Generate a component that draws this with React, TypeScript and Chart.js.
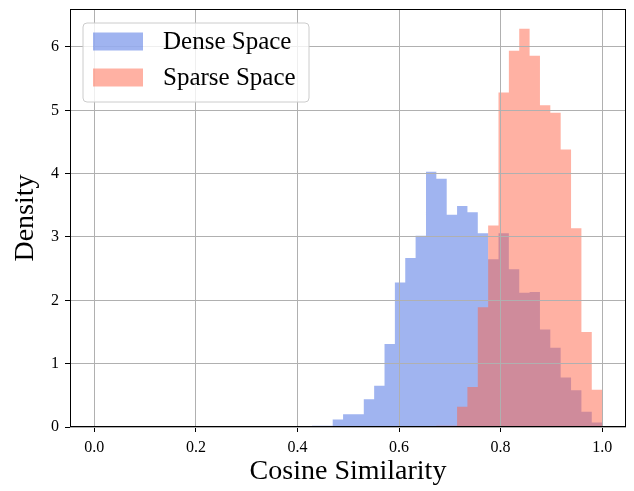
import React, { useEffect, useRef } from 'react';
import { Chart, registerables } from 'chart.js';

Chart.register(...registerables);

// Histogram definition: equal-width bins over [0, 1]
const BIN_COUNT = 49;
const FIRST_BIN = 21; // index of the first listed bin
const seriesLabels = ['Dense Space', 'Sparse Space'];
const seriesColors = ['rgba(65,105,225,0.5)', 'rgba(255,99,71,0.5)'];

// Density per bin, starting at bin FIRST_BIN
const denseDensity = [
  0.02, 0.02, 0.12, 0.2, 0.2, 0.44, 0.65, 1.31, 2.28, 2.67,
  3.02, 4.03, 3.92, 3.35, 3.49, 3.39, 3.06, 2.65, 3.06, 2.49,
  2.12, 2.13, 1.54, 1.25, 0.78, 0.58, 0.24, 0.07,
];
const sparseDensity = [
  0, 0, 0, 0, 0, 0, 0, 0, 0, 0,
  0, 0, 0.02, 0.02, 0.32, 0.63, 1.89, 3.18, 5.28, 5.94,
  6.29, 5.86, 5.08, 4.96, 4.38, 3.14, 1.5, 0.59,
];

const xTicks = [0, 0.2, 0.4, 0.6, 0.8, 1.0];
const yTicks = [0, 1, 2, 3, 4, 5, 6];
const X_MIN = -0.048;
const X_MAX = 1.047;
const Y_MIN = 0;
const Y_MAX = 6.6;

const FONT = '"Liberation Serif", "Times New Roman", serif';

function toSteps(values: number[]) {
  const pts = values.map((v, i) => ({ x: (FIRST_BIN + i) / BIN_COUNT, y: v }));
  pts.push({ x: (FIRST_BIN + values.length) / BIN_COUNT, y: 0 });
  return pts;
}

const framePlugin = {
  id: 'frame',
  afterDraw(chart: any) {
    const { ctx, chartArea } = chart;
    const l = Math.round(chartArea.left) + 0.5;
    const t = Math.round(chartArea.top) + 0.5;
    const r = Math.round(chartArea.right) - 0.5;
    const b = Math.round(chartArea.bottom) - 0.5;
    ctx.save();
    ctx.strokeStyle = '#000';
    ctx.lineWidth = 1;
    ctx.strokeRect(l, t, r - l, b - t);
    ctx.restore();
  },
};

const legendPlugin = {
  id: 'boxLegend',
  afterDraw(chart: any) {
    const { ctx, chartArea } = chart;
    const x0 = chartArea.left + 13;
    const y0 = chartArea.top + 14;
    const w = 226;
    const h = 79;
    const rad = 4;
    ctx.save();
    ctx.beginPath();
    ctx.moveTo(x0 + rad, y0);
    ctx.lineTo(x0 + w - rad, y0);
    ctx.quadraticCurveTo(x0 + w, y0, x0 + w, y0 + rad);
    ctx.lineTo(x0 + w, y0 + h - rad);
    ctx.quadraticCurveTo(x0 + w, y0 + h, x0 + w - rad, y0 + h);
    ctx.lineTo(x0 + rad, y0 + h);
    ctx.quadraticCurveTo(x0, y0 + h, x0, y0 + h - rad);
    ctx.lineTo(x0, y0 + rad);
    ctx.quadraticCurveTo(x0, y0, x0 + rad, y0);
    ctx.closePath();
    ctx.fillStyle = 'rgba(255,255,255,0.8)';
    ctx.fill();
    ctx.strokeStyle = '#cccccc';
    ctx.lineWidth = 1;
    ctx.stroke();
    chart.data.datasets.forEach((ds: any, i: number) => {
      const cy = y0 + 18.5 + i * 36;
      ctx.fillStyle = ds.backgroundColor;
      ctx.fillRect(x0 + 10, cy - 9, 50, 18);
      ctx.fillStyle = '#000';
      ctx.font = `25px ${FONT}`;
      ctx.textBaseline = 'middle';
      ctx.textAlign = 'left';
      ctx.fillText(ds.label, x0 + 80, cy + 1);
    });
    ctx.restore();
  },
};

export default function App() {
  const canvasRef = useRef<HTMLCanvasElement | null>(null);

  useEffect(() => {
    document.body.style.margin = '0';
    const canvas = canvasRef.current;
    if (!canvas) return;
    const chart = new Chart(canvas, {
      type: 'line',
      data: {
        datasets: [
          {
            label: seriesLabels[0],
            data: toSteps(denseDensity),
            stepped: 'before',
            fill: 'origin',
            order: 1,
            backgroundColor: seriesColors[0],
            borderColor: 'rgba(0,0,0,0)',
            borderWidth: 0,
            pointRadius: 0,
          },
          {
            label: seriesLabels[1],
            data: toSteps(sparseDensity),
            stepped: 'before',
            fill: 'origin',
            order: 0,
            backgroundColor: seriesColors[1],
            borderColor: 'rgba(0,0,0,0)',
            borderWidth: 0,
            pointRadius: 0,
          },
        ],
      },
      options: {
        animation: false,
        responsive: false,
        devicePixelRatio: 1,
        layout: { padding: { top: 9, right: 8, left: 0, bottom: 0 } },
        plugins: {
          legend: { display: false },
          tooltip: { enabled: false },
        },
        scales: {
          x: {
            type: 'linear',
            min: X_MIN,
            max: X_MAX,
            afterBuildTicks: (s: any) => {
              s.ticks = xTicks.map((v) => ({ value: v }));
            },
            afterFit: (s: any) => {
              s.height = 64;
              s.paddingLeft = 0;
              s.paddingRight = 0;
            },
            border: { display: false },
            grid: {
              z: 1,
              color: '#b0b0b0',
              lineWidth: 1,
              tickColor: '#000',
              tickLength: 5,
              tickWidth: 1,
            },
            ticks: {
              autoSkip: false,
              maxRotation: 0,
              minRotation: 0,
              padding: 6,
              color: '#000',
              font: { family: FONT, size: 16 },
              callback: (v: any) => Number(v).toFixed(1),
            },
            title: {
              display: true,
              text: 'Cosine Similarity',
              color: '#000',
              font: { family: FONT, size: 28 },
              padding: { top: 0, bottom: 3 },
            },
          },
          y: {
            type: 'linear',
            min: Y_MIN,
            max: Y_MAX,
            afterBuildTicks: (s: any) => {
              s.ticks = yTicks.map((v) => ({ value: v }));
            },
            afterFit: (s: any) => {
              s.width = 70;
              s.paddingTop = 0;
              s.paddingBottom = 0;
            },
            border: { display: false },
            grid: {
              z: 1,
              color: '#b0b0b0',
              lineWidth: 1,
              tickColor: '#000',
              tickLength: 5,
              tickWidth: 1,
            },
            ticks: {
              padding: 6,
              color: '#000',
              font: { family: FONT, size: 16 },
              callback: (v: any) => String(v),
            },
            title: {
              display: true,
              text: 'Density',
              color: '#000',
              font: { family: FONT, size: 28 },
              padding: { top: 9, bottom: 0 },
            },
          },
        },
      },
      plugins: [framePlugin, legendPlugin],
    });
    return () => chart.destroy();
  }, []);

  return (
    <div style={{ width: 634, height: 491 }}>
      <canvas ref={canvasRef} width={634} height={491} style={{ display: 'block' }} />
    </div>
  );
}
